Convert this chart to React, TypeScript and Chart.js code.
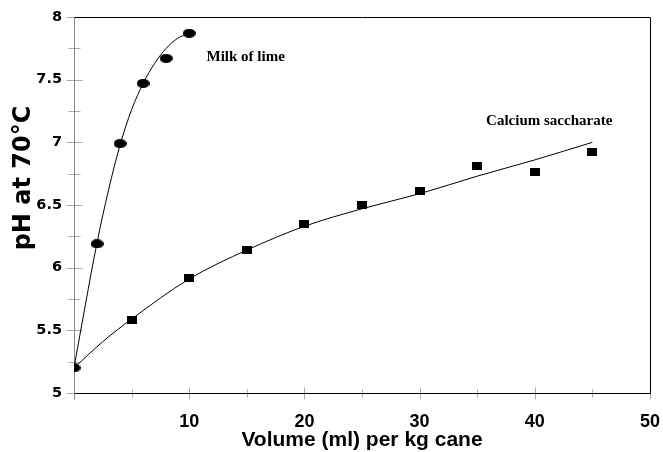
import React, { useEffect, useRef } from "react";
import { Chart, registerables } from "chart.js";

Chart.register(...registerables);

// Measured points
const limeVolume = [0, 2, 4, 6, 8, 10];
const limePH = [5.2, 6.19, 6.99, 7.47, 7.67, 7.87];
const saccharateVolume = [5, 10, 15, 20, 25, 30, 35, 40, 45];
const saccharatePH = [5.58, 5.92, 6.14, 6.35, 6.5, 6.61, 6.81, 6.76, 6.92];

// Fitted curves
const limeFitVolume = [0, 1, 2, 3, 4, 5, 6, 7, 8, 9, 10];
const limeFitPH = [5.2, 5.71, 6.2, 6.62, 6.98, 7.26, 7.47, 7.63, 7.75, 7.83, 7.87];
const saccharateFitVolume = [0, 2.5, 5, 10, 15, 20, 25, 30, 35, 40, 45];
const saccharateFitPH = [5.2, 5.41, 5.59, 5.91, 6.14, 6.33, 6.47, 6.59, 6.73, 6.86, 7.0];

// Axes
const xMin = 0;
const xMax = 50;
const xMinorStep = 5;
const xLabelStep = 10;
const yMin = 5;
const yMax = 8;
const yMinorStep = 0.25;
const yLabelStep = 0.5;

const seriesNames = ["Milk of lime", "Calcium saccharate"];
const xTitle = "Volume (ml) per kg cane";
const yTitle = "pH at 70°C";

function makeMarker(w: number, h: number, shape: "ellipse" | "rect") {
  const c = document.createElement("canvas");
  c.width = w;
  c.height = h;
  const ctx = c.getContext("2d")!;
  ctx.fillStyle = "#000";
  if (shape === "ellipse") {
    ctx.beginPath();
    ctx.ellipse(w / 2, h / 2, w / 2, h / 2, 0, 0, Math.PI * 2);
    ctx.fill();
  } else {
    ctx.fillRect(0, 0, w, h);
  }
  return c;
}

const framePlugin = {
  id: "frame",
  beforeDatasetsDraw(chart: any) {
    const { ctx, chartArea } = chart;
    const xs = chart.scales.x;
    const ys = chart.scales.y;
    const L = Math.round(chartArea.left) + 0.5;
    const R = Math.round(chartArea.right) + 0.5;
    const T = Math.round(chartArea.top) + 0.5;
    const B = Math.round(chartArea.bottom) + 0.5;
    ctx.save();
    ctx.lineWidth = 1;
    ctx.strokeStyle = "#aaa";
    for (let v = yMin; v <= yMax + 1e-9; v += yMinorStep) {
      const y = Math.round(ys.getPixelForValue(v)) + 0.5;
      const major = Math.abs(v / yLabelStep - Math.round(v / yLabelStep)) < 1e-9;
      const len = major ? 8 : 6;
      ctx.beginPath();
      ctx.moveTo(L - len, y);
      ctx.lineTo(L + len, y);
      ctx.stroke();
    }
    for (let v = xMin; v <= xMax + 1e-9; v += xMinorStep) {
      const x = Math.round(xs.getPixelForValue(v)) + 0.5;
      const major = Math.abs(v % xLabelStep) < 1e-9;
      const len = major ? 6 : 4;
      ctx.beginPath();
      ctx.moveTo(x, B - len);
      ctx.lineTo(x, B + len);
      ctx.stroke();
    }
    ctx.strokeStyle = "#000";
    ctx.beginPath();
    ctx.moveTo(L, T);
    ctx.lineTo(R, T);
    ctx.lineTo(R, B);
    ctx.lineTo(L, B);
    ctx.stroke();
    ctx.strokeStyle = "#888";
    ctx.beginPath();
    ctx.moveTo(L, T);
    ctx.lineTo(L, B + 6);
    ctx.stroke();
    ctx.restore();
  },
  afterDraw(chart: any) {
    const { ctx } = chart;
    const xs = chart.scales.x;
    const ys = chart.scales.y;
    ctx.save();
    ctx.fillStyle = "#000";
    ctx.textAlign = "center";
    ctx.textBaseline = "middle";
    ctx.font = "bold 15px 'Liberation Serif', 'Times New Roman', serif";
    ctx.fillText(seriesNames[0], xs.getPixelForValue(14.9), ys.getPixelForValue(7.68));
    ctx.fillText(seriesNames[1], xs.getPixelForValue(41.25), ys.getPixelForValue(7.17));
    ctx.font = "bold 21px 'Liberation Sans', Arial, sans-serif";
    ctx.fillText(xTitle, (chart.chartArea.left + chart.chartArea.right) / 2, 440);
    ctx.translate(24, 178);
    ctx.rotate(-Math.PI / 2);
    ctx.font = "bold 24px 'DejaVu Sans', sans-serif";
    ctx.fillText(yTitle, 0, 0);
    ctx.restore();
  },
};

export default function App() {
  const ref = useRef<HTMLCanvasElement | null>(null);
  useEffect(() => {
    if (!ref.current) return;
    const ellipse = makeMarker(13, 9, "ellipse");
    const square = makeMarker(10, 8, "rect");
    const chart = new Chart(ref.current, {
      type: "scatter",
      data: {
        datasets: [
          {
            label: seriesNames[0],
            data: limeVolume.map((x, i) => ({ x, y: limePH[i] })),
            pointStyle: ellipse as any,
            pointRadius: 6,
            showLine: false,
          },
          {
            label: seriesNames[1],
            data: saccharateVolume.map((x, i) => ({ x, y: saccharatePH[i] })),
            pointStyle: square as any,
            pointRadius: 5,
            showLine: false,
          },
          {
            label: seriesNames[0] + " fit",
            data: limeFitVolume.map((x, i) => ({ x, y: limeFitPH[i] })),
            showLine: true,
            pointRadius: 0,
            borderColor: "#000",
            borderWidth: 1,
            cubicInterpolationMode: "monotone",
          },
          {
            label: seriesNames[1] + " fit",
            data: saccharateFitVolume.map((x, i) => ({ x, y: saccharateFitPH[i] })),
            showLine: true,
            pointRadius: 0,
            borderColor: "#000",
            borderWidth: 1,
            cubicInterpolationMode: "monotone",
          },
        ],
      },
      options: {
        animation: false,
        responsive: false,
        maintainAspectRatio: false,
        events: [],
        layout: { padding: { top: 17, right: 13, left: 0, bottom: 0 } },
        plugins: {
          legend: { display: false },
          tooltip: { enabled: false },
        },
        scales: {
          x: {
            type: "linear",
            min: xMin,
            max: xMax,
            afterFit: (s: any) => {
              s.height = 59;
              s.paddingLeft = 0;
              s.paddingRight = 0;
            },
            grid: { display: false, drawTicks: false },
            border: { display: false },
            ticks: {
              stepSize: xMinorStep,
              autoSkip: false,
              maxRotation: 0,
              padding: 18,
              color: "#000",
              font: { family: "'Liberation Sans', Arial, sans-serif", size: 18, weight: "bold" },
              callback: (v: any) => {
                const n = Number(v);
                return n !== 0 && Math.abs(n % xLabelStep) < 1e-9 ? String(n) : "";
              },
            },
          },
          y: {
            type: "linear",
            min: yMin,
            max: yMax,
            afterFit: (s: any) => {
              s.width = 74;
              s.paddingTop = 0;
              s.paddingBottom = 0;
            },
            grid: { display: false, drawTicks: false },
            border: { display: false },
            ticks: {
              stepSize: yMinorStep,
              autoSkip: false,
              padding: 12,
              color: "#000",
              font: { family: "'DejaVu Sans', sans-serif", size: 14.5, weight: "bold" },
              callback: (v: any) => {
                const n = Number(v);
                return Math.abs(n / yLabelStep - Math.round(n / yLabelStep)) < 1e-9 ? String(n) : "";
              },
            },
          },
        },
      },
      plugins: [framePlugin],
    });
    return () => chart.destroy();
  }, []);
  return (
    <div style={{ position: "fixed", left: 0, top: 0, width: 663, height: 452, background: "#fff" }}>
      <canvas ref={ref} width={663} height={452} style={{ width: 663, height: 452, display: "block" }} />
    </div>
  );
}
